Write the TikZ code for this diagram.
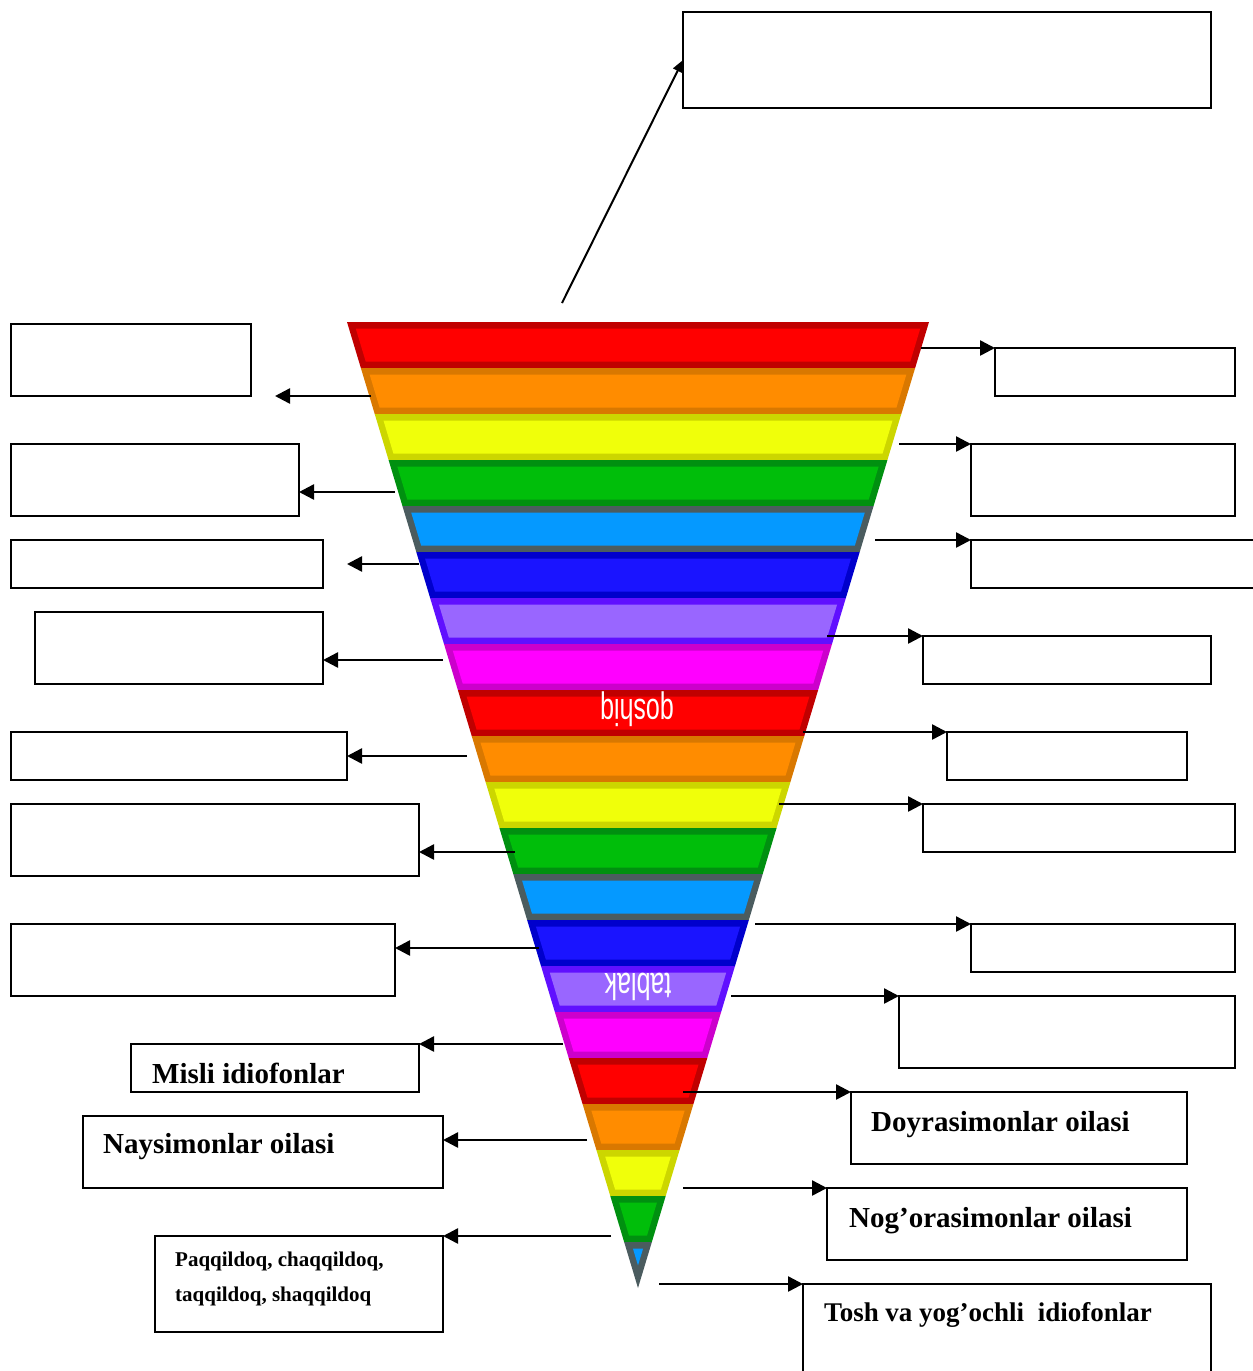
\documentclass[tikz,border=0pt]{standalone}
\usepackage{fontspec}
\setmainfont{Liberation Serif}
\newfontfamily\bandsans{Liberation Sans}
\usetikzlibrary{arrows.meta,calc}
\definecolor{rB}{HTML}{C00000}\definecolor{rF}{HTML}{FF0000}
\definecolor{oB}{HTML}{D97800}\definecolor{oF}{HTML}{FF8C00}
\definecolor{yB}{HTML}{CCD600}\definecolor{yF}{HTML}{F0FF0A}
\definecolor{gB}{HTML}{009010}\definecolor{gF}{HTML}{00BE0A}
\definecolor{lB}{HTML}{4B5C5F}\definecolor{lF}{HTML}{0599FF}
\definecolor{bB}{HTML}{0000CC}\definecolor{bF}{HTML}{1A14FF}
\definecolor{vB}{HTML}{6010FF}\definecolor{vF}{HTML}{9966FF}
\definecolor{mB}{HTML}{CC00CC}\definecolor{mF}{HTML}{FF00FF}
\tikzset{
  box/.style={draw=black, line width=2pt, fill=white, inner sep=0pt, outer sep=0pt, anchor=north west},
  arr/.style={line width=2.5pt, -{Triangle[length=15pt,width=15pt]}},
  slantarr/.style={line width=2pt, -{Triangle[length=12pt,width=10pt]}},
  bigtxt/.style={font=\fontsize{29}{34}\selectfont\bfseries, anchor=base west, inner sep=0pt},
  smalltxt/.style={font=\fontsize{21}{35}\selectfont\bfseries, anchor=base west, inner sep=0pt},
  bandtxt/.style={font=\fontsize{25}{30}\selectfont\bandsans, text=white, rotate=180, inner sep=0pt}
}
\begin{document}
\begin{tikzpicture}[x=1pt,y=-1pt]
\useasboundingbox (0,0) rectangle (1253,1371);
% inverted triangle of bands
\foreach \k/\bc/\fc in {0/rB/rF,1/oB/oF,2/yB/yF,3/gB/gF,4/lB/lF,5/bB/bF,6/vB/vF,7/mB/mF,
  8/rB/rF,9/oB/oF,10/yB/yF,11/gB/gF,12/lB/lF,13/bB/bF,14/vB/vF,15/mB/mF,
  16/rB/rF,17/oB/oF,18/yB/yF,19/gB/gF,20/lB/lF}{
  \pgfmathsetmacro\ya{322+46*\k}
  \pgfmathsetmacro\yb{\ya+46}
  \pgfmathsetmacro\wa{(1288-\ya)/966*291}
  \pgfmathsetmacro\wb{(1288-\yb)/966*291}
  \pgfmathsetmacro\yc{\ya+6.5}
  \pgfmathsetmacro\yd{min(\yb-6.5,1265.4)}
  \pgfmathsetmacro\wc{(1288-\yc)/966*291-6.8}
  \pgfmathsetmacro\wd{max((1288-\yd)/966*291-6.8,0)}
  \fill[\bc] (638-\wa,\ya) -- (638+\wa,\ya) -- (638+\wb,\yb) -- (638-\wb,\yb) -- cycle;
  \fill[\fc] (638-\wc,\yc) -- (638+\wc,\yc) -- (638+\wd,\yd) -- (638-\wd,\yd) -- cycle;
}
\node[bandtxt] (q1) at (637,709) {\scalebox{1}[1.5]{qoshiq}};
\node[bandtxt] (q2) at (638,987) {\scalebox{1}[1.5]{tablak}};

% top box
\node[box, minimum width=528pt, minimum height=96pt] (T) at (683,12) {};
% left boxes
\node[box, minimum width=240pt, minimum height=72pt] (L1) at (11,324) {};
\node[box, minimum width=288pt, minimum height=72pt] (L2) at (11,444) {};
\node[box, minimum width=312pt, minimum height=48pt] (L3) at (11,540) {};
\node[box, minimum width=288pt, minimum height=72pt] (L4) at (35,612) {};
\node[box, minimum width=336pt, minimum height=48pt] (L5) at (11,732) {};
\node[box, minimum width=408pt, minimum height=72pt] (L6) at (11,804) {};
\node[box, minimum width=384pt, minimum height=72pt] (L7) at (11,924) {};
\node[box, minimum width=288pt, minimum height=48pt] (L8) at (131,1044) {};
\node[box, minimum width=360pt, minimum height=72pt] (L9) at (83,1116) {};
\node[box, minimum width=288pt, minimum height=96pt] (L10) at (155,1236) {};
% right boxes
\node[box, minimum width=240pt, minimum height=48pt] (R1) at (995,348) {};
\node[box, minimum width=264pt, minimum height=72pt] (R2) at (971,444) {};
\node[box, minimum width=300pt, minimum height=48pt] (R3) at (971,540) {};
\node[box, minimum width=288pt, minimum height=48pt] (R4) at (923,636) {};
\node[box, minimum width=240pt, minimum height=48pt] (R5) at (947,732) {};
\node[box, minimum width=312pt, minimum height=48pt] (R6) at (923,804) {};
\node[box, minimum width=264pt, minimum height=48pt] (R7) at (971,924) {};
\node[box, minimum width=336pt, minimum height=72pt] (R8) at (899,996) {};
\node[box, minimum width=336pt, minimum height=72pt] (R9) at (851,1092) {};
\node[box, minimum width=360pt, minimum height=72pt] (R10) at (827,1188) {};
\node[box, minimum width=408pt, minimum height=110pt] (R11) at (803,1284) {};

% texts
\node[bigtxt] (tx8) at (152,1083) {Misli idiofonlar};
\node[bigtxt] (tx9) at (103,1153) {Naysimonlar oilasi};
\node[smalltxt] (tx10a) at (175,1266) {Paqqildoq, chaqqildoq,};
\node[smalltxt] (tx10b) at (175,1301) {taqqildoq, shaqqildoq};
\node[bigtxt] (tr9) at (871,1131) {Doyrasimonlar oilasi};
\node[bigtxt] (tr10) at (849,1227) {Nog’orasimonlar oilasi};
\node[bigtxt, font=\fontsize{27}{32}\selectfont\bfseries] (tr11) at (824,1321) {Tosh va yog’ochli \ idiofonlar};

% arrow start points and free tips
\coordinate (ta) at (562,303);
\coordinate (la1) at (371,396); \coordinate (lt1) at (275,396);
\coordinate (la2) at (395,492);
\coordinate (la3) at (419,564); \coordinate (lt3) at (347,564);
\coordinate (la4) at (443,660);
\coordinate (la5) at (467,756);
\coordinate (la6) at (515,852);
\coordinate (la7) at (539,948);
\coordinate (la8) at (563,1044);
\coordinate (la9) at (587,1140);
\coordinate (la10) at (611,1236);
\coordinate (ra1) at (921,348);
\coordinate (ra2) at (899,444);
\coordinate (ra3) at (875,540);
\coordinate (ra4) at (827,636);
\coordinate (ra5) at (803,732);
\coordinate (ra6) at (779,804);
\coordinate (ra7) at (755,924);
\coordinate (ra8) at (731,996);
\coordinate (ra9) at (683,1092);
\coordinate (ra10) at (683,1188);
\coordinate (ra11) at (659,1284);

\draw[slantarr] (ta) -- (T.west);
\draw[arr] (la1) -- (lt1);
\draw[arr] (la2) -- (L2.east |- la2);
\draw[arr] (la3) -- (lt3);
\draw[arr] (la4) -- (L4.east |- la4);
\draw[arr] (la5) -- (L5.east |- la5);
\draw[arr] (la6) -- (L6.east |- la6);
\draw[arr] (la7) -- (L7.east |- la7);
\draw[arr] (la8) -- (L8.north east);
\draw[arr] (la9) -- (L9.east |- la9);
\draw[arr] (la10) -- (L10.north east);
\draw[arr] (ra1) -- (R1.north west);
\draw[arr] (ra2) -- (R2.north west);
\draw[arr] (ra3) -- (R3.north west);
\draw[arr] (ra4) -- (R4.north west);
\draw[arr] (ra5) -- (R5.north west);
\draw[arr] (ra6) -- (R6.north west);
\draw[arr] (ra7) -- (R7.north west);
\draw[arr] (ra8) -- (R8.north west);
\draw[arr] (ra9) -- (R9.north west);
\draw[arr] (ra10) -- (R10.north west);
\draw[arr] (ra11) -- (R11.north west);
\end{tikzpicture}
\end{document}
